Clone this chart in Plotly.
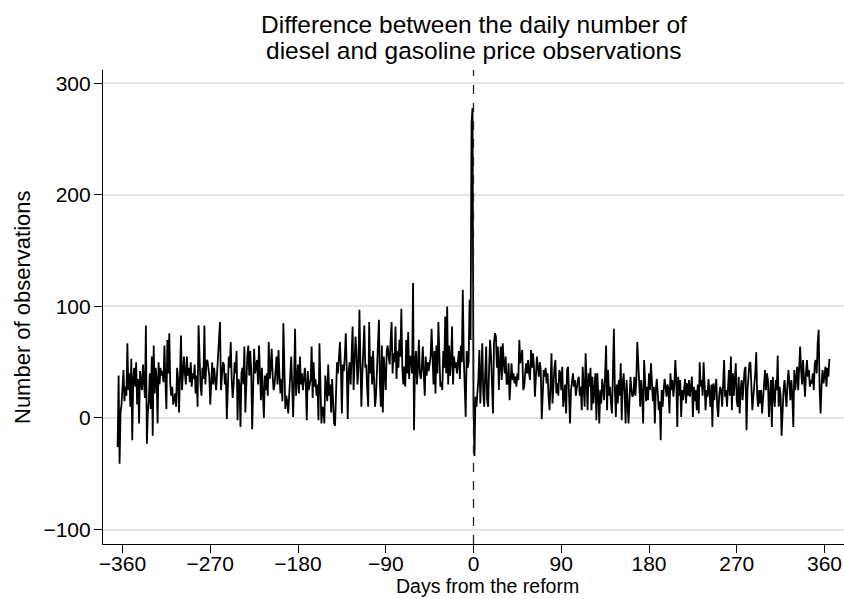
import plotly.graph_objects as go

# Daily difference (diesel - gasoline observations)
start_day = -365
diff_pre_far = [  # days -365 .. -222
    -26, 38, -41, 5, 12, 30, 43, 15, 28, 20,
    67, 25, 40, 10, 53, -20, 35, 45, 28, 50,
    12, 35, -5, 42, 30, 25, 48, 32, 18, 83,
    -23, 5, 15, 40, 8, 55, -16, 65, 22, 45,
    35, -5, 50, 30, 45, 38, 42, 32, 65, 35,
    8, 70, 40, 76, 30, 20, 28, 12, 18, 22,
    10, 45, 35, 5, 40, 74, 25, 42, 55, 40,
    30, 55, 38, 45, 32, 50, 28, 40, 35, 48,
    22, 38, 10, 83, 40, 30, 20, 45, 35, 83,
    30, 50, 52, 45, 38, 12, 40, 50, 30, 45,
    35, 25, 40, 60, 70, 86, 25, 35, 50, 48,
    30, 40, -1, 25, 55, 45, 68, 35, 18, 30,
    50, 40, 60, -2, 35, 30, -8, 40, 45, 30,
    64, 5, 45, 55, 65, 38, 60, 42, -10, 35,
    62, 40, 48, 52,
]
diff_pre_mid = [  # days -221 .. -75
    30, 65, 40, 16, 45, 28, 0, 38, 25, 40,
    20, 68, 35, 45, 62, 38, 25, 30, 42, 55,
    30, 61, 38, 22, 35, 15, 85, 40, 8, 20,
    15, 4, 22, 40, 55, 30, 1, 35, 80, 20,
    35, 48, 22, 55, 30, 40, 25, 38, 45, 30,
    -2, 42, 25, 30, 35, 64, 18, 50, 28, 35,
    20, 30, -2, 67, 28, -5, 10, 8, -5, 38,
    28, 15, 48, 20, 30, 5, 35, 15, -5, -7,
    35, 50, 40, 55, 68, 45, 4, 48, 42, 55,
    76, 45, -1, 42, 50, 30, 60, 82, 25, 55,
    73, 58, 30, 45, 97, 50, 10, 40, 60, 83,
    45, 48, 25, 10, 86, 40, 55, 30, 60, 35,
    10, 20, 45, 55, 88, 32, 10, 65, 5, 55,
    40, 25, 60, 65, 55, 48, 70, 86, 40, 58,
    50, 82, 35, 60, 45, 70, 55,
]
diff_pre_near = [  # days -74 .. -1
    98, 45, 30, 46, 28, 70, 40, 77, 35, 55,
    55, 40, 121, -11, 50, 60, 30, 45, 70, 40,
    35, 45, 64, 40, 20, 55, 38, 50, 42, 48,
    55, 80, 40, 30, 60, 22, 65, 40, 86, 40,
    28, 32, 25, 60, 45, 91, 40, 100, 30, 65,
    38, 50, 82, 30, 55, 45, 50, 40, 55, 60,
    35, 65, 50, 115, 55, 30, 1, 60, 45, 50,
    106, 70, 265, 278,
]
diff_post_near = [  # days 0 .. 74
    10, -34, 19, 10, 19, 35, 61, 13, 40, 67,
    22, 10, 40, 64, 16, 10, 45, 70, 55, 30,
    4, 67, 76, 73, 45, 64, 25, 50, 64, 34,
    67, 50, 40, 55, 30, 31, 49, 16, 35, 49,
    34, 40, 31, 37, 28, 40, 34, 70, 49, 55,
    61, 25, 28, 40, 49, 40, 52, 40, 34, 61,
    45, 58, 46, 19, 40, 55, 46, 37, 50, 43,
    -1, 30, 43, 37, 45,
]
diff_post_mid = [  # days 75 .. 223
    31, 40, 19, 7, 30, 58, 13, 31, 45, 52,
    22, 31, 20, 43, 40, 25, 46, 10, 19, 30,
    4, 43, 46, 20, -5, 25, 31, 40, 28, 34,
    20, 28, 34, 37, 20, 28, 7, 46, 25, 10,
    58, 20, 7, 40, 28, 45, 7, 37, 13, 25,
    40, -2, 40, 20, -5, 25, 13, 35, 28, 16,
    40, 65, 7, 43, 20, 28, 13, 4, 40, 80,
    25, 1, 30, 13, 34, 20, 49, -2, 31, 40,
    22, -5, 34, 15, -5, 16, 37, 25, 19, 22,
    37, 20, 34, 68, 40, 31, 10, 34, 20, -5,
    52, 34, 15, 28, 16, 40, 25, 49, 34, 15,
    28, -5, 25, 35, 22, 7, 15, -20, 25, 10,
    25, 35, 28, 19, 30, 25, 4, 40, 25, 34,
    19, 30, 52, 34, -8, 37, 20, 34, 1, 25,
    16, 28, 35, 13, 31, 20, 34, 19, 30,
]
diff_post_far = [  # days 224 .. 365
    37, 1, 28, 15, 25, 7, 30, 4, 50, 28,
    34, 20, 50, 30, 7, 25, 19, 35, 22, 10,
    30, -8, 31, 16, 28, 35, 10, 1, 20, 28,
    25, 10, 30, 52, 19, 25, 10, 31, 43, 20,
    55, 7, 40, 20, 31, 49, 15, 10, 37, 4,
    25, 34, 16, 30, 43, 46, -11, 25, 43, 49,
    50, 30, 7, 19, 28, 40, 59, 19, 10, 25,
    13, 25, 4, 20, 28, 43, 25, 40, 34, 1,
    20, 34, -8, 37, 20, 10, 34, 25, 56, 10,
    28, 20, -16, 10, 25, 34, 20, 10, 30, 43,
    31, 16, 34, 20, -8, 43, 25, 34, 46, 25,
    40, 64, 43, 30, 52, 31, 19, 40, 52, 37,
    43, 28, 34, 31, 40, 25, 49, 52, 40, 67,
    79, 25, 4, 30, 43, 31, 40, 46, 28, 45,
    37, 53,
]

diff_values = (diff_pre_far + diff_pre_mid + diff_pre_near
               + diff_post_near + diff_post_mid + diff_post_far)
days = list(range(start_day, start_day + len(diff_values)))

x_ticks = [-360, -270, -180, -90, 0, 90, 180, 270, 360]
y_ticks = [-100, 0, 100, 200, 300]
reform_day = 0
title_lines = ["Difference between the daily number of",
               "diesel and gasoline price observations"]

FONT = "Liberation Sans, Arial, Helvetica, sans-serif"
W, H = 844, 599
L, R, T, B = 103, 0, 70, 55
PW, PH = W - L - R, H - T - B


def px_x(px):
    return (px - L) / PW


def px_y(py):
    return (H - B - py) / PH


fig = go.Figure()
fig.add_trace(go.Scatter(
    x=days, y=diff_values, mode="lines",
    line=dict(color="black", width=1.8),
    hoverinfo="skip", showlegend=False,
))
fig.add_shape(type="line", xref="x", yref="paper",
              x0=reform_day, x1=reform_day, y0=0, y1=1,
              line=dict(color="#222222", width=1.3, dash="dash"))

annotations = [
    dict(text=title_lines[0], xref="paper", yref="paper",
         x=px_x(474), y=px_y(25), xanchor="center", yanchor="middle",
         showarrow=False, font=dict(family=FONT, size=24.5, color="black")),
    dict(text=title_lines[1], xref="paper", yref="paper",
         x=px_x(474), y=px_y(51), xanchor="center", yanchor="middle",
         showarrow=False, font=dict(family=FONT, size=24.5, color="black")),
    dict(text="Number of observations", xref="paper", yref="paper",
         x=px_x(22), y=px_y(307), xanchor="center", yanchor="middle",
         textangle=-90, showarrow=False,
         font=dict(family=FONT, size=22, color="black")),
    dict(text="Days from the reform", xref="paper", yref="paper",
         x=px_x(487.5), y=px_y(586),
         xanchor="center", yanchor="middle", showarrow=False,
         font=dict(family=FONT, size=19.5, color="black")),
]

fig.update_layout(
    width=W, height=H,
    margin=dict(l=L, r=R, t=T, b=B),
    plot_bgcolor="white", paper_bgcolor="white",
    font=dict(family=FONT, size=21, color="black"),
    xaxis=dict(
        range=[-380, 380], tickvals=x_ticks,
        showgrid=False, zeroline=False,
        showline=True, linecolor="black", linewidth=1.2,
        ticks="outside", ticklen=8, tickwidth=1.2, tickcolor="black",
        ticklabelstandoff=-7,
        tickfont=dict(family=FONT, size=21, color="black"),
    ),
    yaxis=dict(
        range=[-113, 312], tickvals=y_ticks,
        showgrid=True, gridcolor="#e6e6e6", gridwidth=1.5, zeroline=False,
        showline=True, linecolor="black", linewidth=1.2,
        ticks="outside", ticklen=8, tickwidth=1.2, tickcolor="black",
        ticklabelstandoff=-1,
        tickfont=dict(family=FONT, size=21, color="black"),
    ),
    annotations=annotations,
)

fig.write_html("out.html")
